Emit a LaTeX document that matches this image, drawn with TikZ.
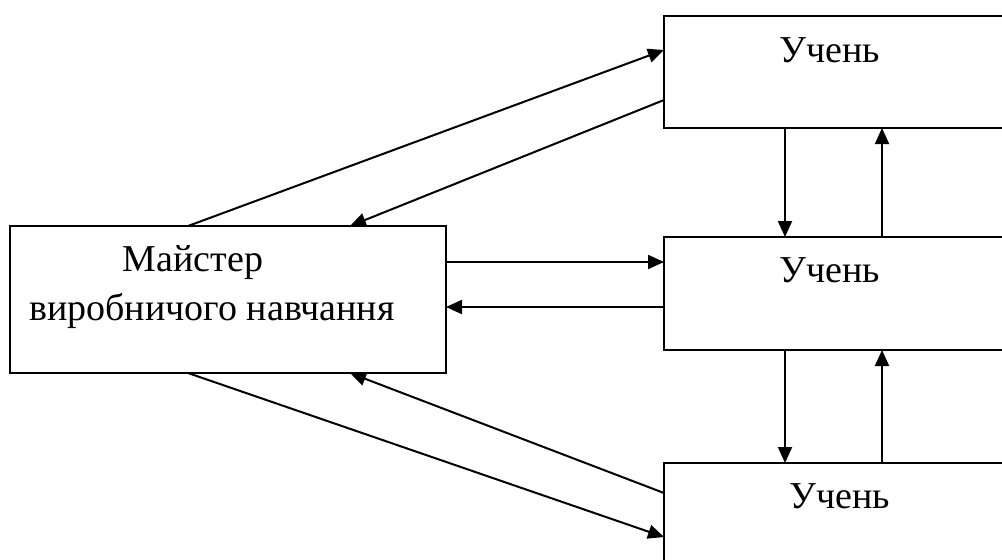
\documentclass[tikz,border=0pt]{standalone}
\usepackage{fontspec}
\setmainfont{Liberation Serif}
\usetikzlibrary{arrows.meta}

\tikzset{
  blok/.style={draw, line width=1pt, inner sep=0pt, outer sep=0pt},
  napys/.style={anchor=base, inner sep=0pt, font=\fontsize{19}{23}\selectfont},
  strilka/.style={line width=1pt, -{Triangle[length=8pt,width=7pt]}}
}

\begin{document}
\begin{tikzpicture}[x=0.5pt, y=-0.5pt]
            \useasboundingbox (0,0) rectangle (1002,559);
            \clip (0,0) rectangle (1002,559);
            % boxes
            \node[blok, minimum width=218pt, minimum height=73.5pt] (master) at (228,299.5) {};
            \node[blok, minimum width=180pt, minimum height=56pt] (st1) at (844,72) {};
            \node[blok, minimum width=180pt, minimum height=56.5pt] (st2) at (844,293.5) {};
            \node[blok, minimum width=180pt, minimum height=56pt] (st3) at (844,519) {};
            % texts
            \node[napys] (m1) at (193,271) {Майстер};
            \node[napys] (m2) at (212,320) {виробничого навчання};
            \node[napys] (u1) at (830,62) {Учень};
            \node[napys] (u2) at (830,282) {Учень};
            \node[napys] (u3) at (840,508) {Учень};
            % master <-> pupils
            \draw[strilka] ([xshift=89pt]master.north west) -- ([yshift=-17pt]st1.north west);
            \draw[strilka] ([yshift=-42pt]st1.north west) -- ([xshift=170pt]master.north west);
            \draw[strilka] ([yshift=-18pt]master.north east) -- ([yshift=-12.5pt]st2.north west);
            \draw[strilka] ([yshift=-35pt]st2.north west) -- ([yshift=-40.5pt]master.north east);
            \draw[strilka] ([xshift=89pt]master.south west) -- ([yshift=-37pt]st3.north west);
            \draw[strilka] ([yshift=-15pt]st3.north west) -- ([xshift=170pt]master.south west);
            % pupil <-> pupil
            \draw[strilka] ([xshift=60.5pt]st1.south west) -- ([xshift=60.5pt]st2.north west);
            \draw[strilka] ([xshift=109pt]st2.north west) -- ([xshift=109pt]st1.south west);
            \draw[strilka] ([xshift=60.5pt]st2.south west) -- ([xshift=60.5pt]st3.north west);
            \draw[strilka] ([xshift=109pt]st3.north west) -- ([xshift=109pt]st2.south west);
        \end{tikzpicture}
\end{document}
